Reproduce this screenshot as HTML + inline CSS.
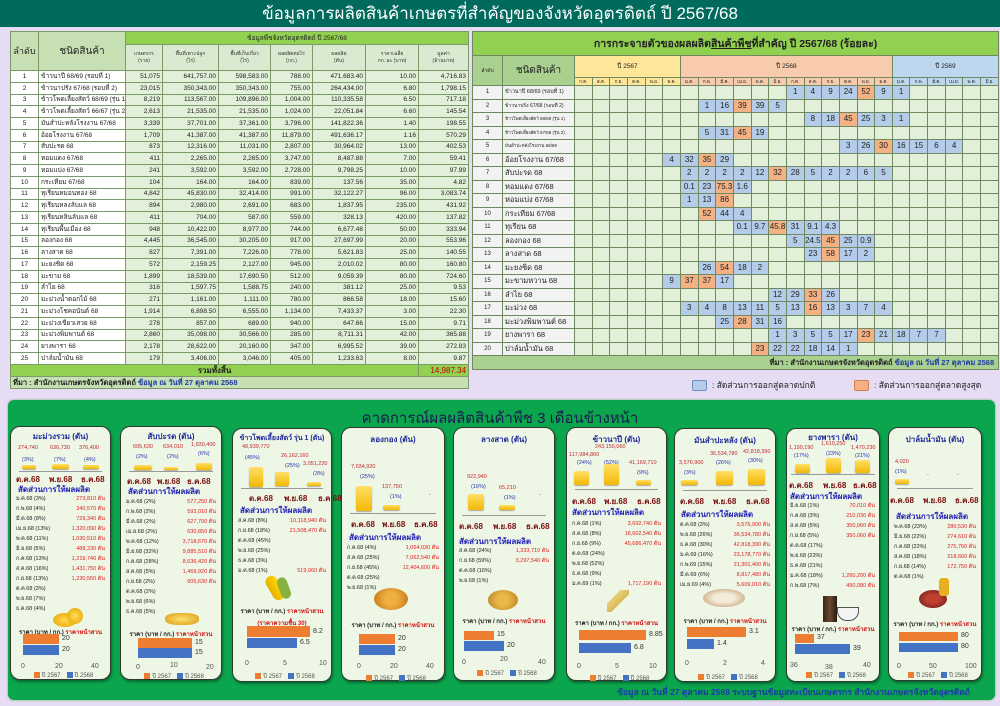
<!DOCTYPE html>
<html><head><meta charset="utf-8">
<style>
body{margin:0;width:1000px;height:706px;background:#e6dcf4;position:relative;overflow:hidden;font-family:"Liberation Sans","DejaVu Sans","Noto Sans CJK SC",sans-serif}
.a{position:absolute;white-space:nowrap}
#top{position:absolute;left:0;top:0;width:1000px;height:27px;background:#006a5c;color:#fff;font-size:17px;text-align:center;line-height:27px}
table{border-collapse:collapse;table-layout:fixed;position:absolute}
#lt{left:10px;top:31px;width:458px;font-size:6.5px}
#lt td{border:1px solid #7a9a6a;padding:0 2px;overflow:hidden;white-space:nowrap;line-height:9px;color:#222}
#lt tr.r{height:11.75px}
#lt tr.r td{background:#e2efd9;text-align:right}
#lt tr.r td:nth-child(1){background:#fff;text-align:center}
#lt tr.r td:nth-child(2){background:#fff;text-align:left}
#lt .sh td{background:#d9ead0;font-size:5px;text-align:center;line-height:7px;color:#333}
#rt{left:472px;top:31px;width:526px;font-size:8px}
#rt td{border:1px solid #6f8a60;padding:0;text-align:center;overflow:hidden;white-space:nowrap;line-height:10px;color:#222}
#rt tr.r{height:13.5px}
#rt tr.r td{background:#e2efd9}
#rt tr.r td:nth-child(1){background:#f2f2f2;font-size:6px}
#rt tr.r td:nth-child(2){background:#f2f2f2;text-align:left;padding-left:2px;font-size:7.5px}
#rt td.b{background:#b4cce9!important}
#rt td.o{background:#f4b183!important}
#rt .mh td{font-size:4.5px;line-height:7px}
#panel{position:absolute;left:8px;top:400px;width:987px;height:300px;background:#0aa54c;border-radius:6px;box-shadow:0 0 2px #6a6}
.card{position:absolute;background:#eef6e6;border:1.5px solid #2e3b2e;border-radius:10px;height:252px;box-shadow:1px 2px 2px rgba(0,0,0,.35)}
.t{left:0;right:0;text-align:center;color:#1f2b9b;font-weight:bold;font-size:8px}
.v{font-size:5.5px;color:#c0282d}
.p{font-size:5.5px;color:#2233aa}
.y{background:linear-gradient(180deg,#ffe066,#f2b705);border-radius:2px;box-shadow:0 1px 1px rgba(0,0,0,.3)}
.ln{height:1px;background:#999;left:8px;right:8px}
.m{font-size:8px;color:#7a1010;font-weight:bold}
.h{font-size:8px;color:#2323b5;font-weight:bold;left:7px}
.ls{left:5px;right:5px;font-size:5.5px;line-height:10px;color:#222}
.ls div{display:flex;justify-content:space-between;height:10px}
.ls b{font-weight:normal;color:#e02020}
.cl{font-size:6px;font-weight:bold;color:#222;left:0;right:0;text-align:center}
.cl i{font-style:normal;color:#d01818}
.o{background:#ed7d31;height:10px}
.bl{background:#4472c4;height:10px}
.n{font-size:7px;color:#333}
.ax{font-size:7px;color:#555}
.lg{font-size:6px;color:#555;left:0;right:0;text-align:center}
.lg s{display:inline-block;width:6px;height:6px;text-decoration:none;vertical-align:middle;margin:0 2px 0 6px}
</style></head><body>
<div id="top">ข้อมูลการผลิตสินค้าเกษตรที่สำคัญของจังหวัดอุตรดิตถ์ ปี 2567/68</div>

<table id="lt">
<colgroup><col style="width:28px"><col style="width:87px"><col style="width:37px"><col style="width:56px"><col style="width:52px"><col style="width:42px"><col style="width:53px"><col style="width:53px"><col style="width:50px"></colgroup>
<tr style="height:13px"><td rowspan="2" style="background:#c6e0b4;font-size:9px;text-align:center">ลำดับ</td><td rowspan="2" style="background:#c6e0b4;font-size:10px;text-align:center">ชนิดสินค้า</td><td colspan="7" style="background:#92d050;text-align:center;font-size:6.5px">ข้อมูลพืชจังหวัดอุตรดิตถ์ ปี 2567/68</td></tr>
<tr class="sh" style="height:26px"><td>เกษตรกร<br>(ราย)</td><td>พื้นที่เพาะปลูก<br>(ไร่)</td><td>พื้นที่เก็บเกี่ยว<br>(ไร่)</td><td>ผลผลิตต่อไร่<br>(กก.)</td><td>ผลผลิต<br>(ตัน)</td><td>ราคาเฉลี่ย<br>กก. ละ (บาท)</td><td>มูลค่า<br>(ล้านบาท)</td></tr>
<tr class="r"><td>1</td><td>ข้าวนาปี 68/69 (รอบที่ 1)</td><td>51,075</td><td>641,757.00</td><td>598,583.00</td><td>788.00</td><td>471,683.40</td><td>10.00</td><td>4,716.83</td></tr>
<tr class="r"><td>2</td><td>ข้าวนาปรัง 67/68 (รอบที่ 2)</td><td>23,015</td><td>350,343.00</td><td>350,343.00</td><td>755.00</td><td>264,434.00</td><td>6.80</td><td>1,798.15</td></tr>
<tr class="r"><td>3</td><td>ข้าวโพดเลี้ยงสัตว์ 68/69 (รุ่น 1)</td><td>8,219</td><td>113,567.00</td><td>109,896.00</td><td>1,004.00</td><td>110,335.58</td><td>6.50</td><td>717.18</td></tr>
<tr class="r"><td>4</td><td>ข้าวโพดเลี้ยงสัตว์ 66/67 (รุ่น 2)</td><td>2,613</td><td>21,535.00</td><td>21,535.00</td><td>1,024.00</td><td>22,051.84</td><td>6.60</td><td>145.54</td></tr>
<tr class="r"><td>5</td><td>มันสำปะหลังโรงงาน 67/68</td><td>3,339</td><td>37,701.00</td><td>37,361.00</td><td>3,796.00</td><td>141,822.36</td><td>1.40</td><td>198.55</td></tr>
<tr class="r"><td>6</td><td>อ้อยโรงงาน 67/68</td><td>1,709</td><td>41,387.00</td><td>41,387.00</td><td>11,879.00</td><td>491,636.17</td><td>1.16</td><td>570.29</td></tr>
<tr class="r"><td>7</td><td>สับปะรด 68</td><td>873</td><td>12,316.00</td><td>11,031.00</td><td>2,807.00</td><td>30,964.02</td><td>13.00</td><td>402.53</td></tr>
<tr class="r"><td>8</td><td>หอมแดง 67/68</td><td>411</td><td>2,265.00</td><td>2,265.00</td><td>3,747.00</td><td>8,487.88</td><td>7.00</td><td>59.41</td></tr>
<tr class="r"><td>9</td><td>หอมแบ่ง 67/68</td><td>241</td><td>3,592.00</td><td>3,592.00</td><td>2,728.00</td><td>9,798.25</td><td>10.00</td><td>97.99</td></tr>
<tr class="r"><td>10</td><td>กระเทียม 67/68</td><td>104</td><td>164.00</td><td>164.00</td><td>839.00</td><td>137.56</td><td>35.00</td><td>4.82</td></tr>
<tr class="r"><td>11</td><td>ทุเรียนหมอนทอง 68</td><td>4,842</td><td>45,830.00</td><td>32,414.00</td><td>991.00</td><td>32,122.27</td><td>96.00</td><td>3,083.74</td></tr>
<tr class="r"><td>12</td><td>ทุเรียนหลงลับแล 68</td><td>894</td><td>2,980.00</td><td>2,691.00</td><td>683.00</td><td>1,837.95</td><td>235.00</td><td>431.92</td></tr>
<tr class="r"><td>13</td><td>ทุเรียนหลินลับแล 68</td><td>411</td><td>704.00</td><td>587.00</td><td>559.00</td><td>328.13</td><td>420.00</td><td>137.82</td></tr>
<tr class="r"><td>14</td><td>ทุเรียนพื้นเมือง 68</td><td>948</td><td>10,422.00</td><td>8,977.00</td><td>744.00</td><td>6,677.48</td><td>50.00</td><td>333.94</td></tr>
<tr class="r"><td>15</td><td>ลองกอง 68</td><td>4,445</td><td>36,545.00</td><td>30,205.00</td><td>917.00</td><td>27,697.99</td><td>20.00</td><td>553.96</td></tr>
<tr class="r"><td>16</td><td>ลางสาด 68</td><td>827</td><td>7,391.00</td><td>7,226.00</td><td>778.00</td><td>5,621.83</td><td>25.00</td><td>140.55</td></tr>
<tr class="r"><td>17</td><td>มะยงชิด 68</td><td>572</td><td>2,159.25</td><td>2,127.00</td><td>945.00</td><td>2,010.02</td><td>80.00</td><td>160.80</td></tr>
<tr class="r"><td>18</td><td>มะขาม 68</td><td>1,899</td><td>18,539.00</td><td>17,690.50</td><td>512.00</td><td>9,059.39</td><td>80.00</td><td>724.60</td></tr>
<tr class="r"><td>19</td><td>ลำไย 68</td><td>316</td><td>1,597.75</td><td>1,588.75</td><td>240.00</td><td>381.12</td><td>25.00</td><td>9.53</td></tr>
<tr class="r"><td>20</td><td>มะม่วงน้ำดอกไม้ 68</td><td>271</td><td>1,161.00</td><td>1,111.00</td><td>780.00</td><td>866.58</td><td>18.00</td><td>15.60</td></tr>
<tr class="r"><td>21</td><td>มะม่วงโชคอนันต์ 68</td><td>1,914</td><td>6,898.50</td><td>6,555.00</td><td>1,134.00</td><td>7,433.37</td><td>3.00</td><td>22.30</td></tr>
<tr class="r"><td>22</td><td>มะม่วงเขียวเสวย 68</td><td>278</td><td>857.00</td><td>689.00</td><td>940.00</td><td>647.66</td><td>15.00</td><td>9.71</td></tr>
<tr class="r"><td>23</td><td>มะม่วงพิมพานต์ 68</td><td>2,860</td><td>35,098.00</td><td>30,566.00</td><td>285.00</td><td>8,711.31</td><td>42.00</td><td>365.88</td></tr>
<tr class="r"><td>24</td><td>ยางพารา 68</td><td>2,178</td><td>28,622.00</td><td>20,160.00</td><td>347.00</td><td>6,995.52</td><td>39.00</td><td>272.83</td></tr>
<tr class="r"><td>25</td><td>ปาล์มน้ำมัน 68</td><td>179</td><td>3,406.00</td><td>3,046.00</td><td>405.00</td><td>1,233.63</td><td>8.00</td><td>9.87</td></tr>
<tr style="height:12px"><td colspan="8" style="background:#92d050;text-align:center;font-size:8px;font-weight:bold">รวมทั้งสิ้น</td><td style="background:#92d050;text-align:right;color:#c00000;font-size:8px">14,987.34</td></tr>
<tr style="height:12px"><td colspan="9" style="background:#c6e0b4;font-size:7.5px;font-weight:bold">ที่มา : สำนักงานเกษตรจังหวัดอุตรดิตถ์ <span style="color:#1f3aa8">ข้อมูล ณ วันที่ 27 ตุลาคม 2568</span></td></tr>
</table>

<table id="rt">
<colgroup><col style="width:30px"><col style="width:72px"><col span="24" style="width:17.66px"></colgroup>
<tr style="height:24px"><td colspan="26" style="background:#92d050;font-size:10.5px;font-weight:bold">การกระจายตัวของผลผลิต<u>สินค้าพืช</u>ที่สำคัญ ปี 2567/68 (ร้อยละ)</td></tr>
<tr style="height:22px"><td rowspan="2" style="background:#a9d08e;font-size:5px">ลำดับ</td><td rowspan="2" style="background:#a9d08e;font-size:10px">ชนิดสินค้า</td><td colspan="6" style="background:#ffe699;font-size:6.5px">ปี 2567</td><td colspan="12" style="background:#f8cbad;font-size:6.5px">ปี 2568</td><td colspan="6" style="background:#bdd7ee;font-size:6.5px">ปี 2569</td></tr>
<tr class="mh" style="height:8px"><td style="background:#ffe699">ก.ค.</td><td style="background:#ffe699">ส.ค.</td><td style="background:#ffe699">ก.ย.</td><td style="background:#ffe699">ต.ค.</td><td style="background:#ffe699">พ.ย.</td><td style="background:#ffe699">ธ.ค.</td><td style="background:#f8cbad">ม.ค.</td><td style="background:#f8cbad">ก.พ.</td><td style="background:#f8cbad">มี.ค.</td><td style="background:#f8cbad">เม.ย.</td><td style="background:#f8cbad">พ.ค.</td><td style="background:#f8cbad">มิ.ย.</td><td style="background:#f8cbad">ก.ค.</td><td style="background:#f8cbad">ส.ค.</td><td style="background:#f8cbad">ก.ย.</td><td style="background:#f8cbad">ต.ค.</td><td style="background:#f8cbad">พ.ย.</td><td style="background:#f8cbad">ธ.ค.</td><td style="background:#bdd7ee">ม.ค.</td><td style="background:#bdd7ee">ก.พ.</td><td style="background:#bdd7ee">มี.ค.</td><td style="background:#bdd7ee">เม.ย.</td><td style="background:#bdd7ee">พ.ค.</td><td style="background:#bdd7ee">มิ.ย.</td></tr>
<tr class="r"><td>1</td><td style="font-size:5.5px!important">ข้าวนาปี 68/69 (รอบที่ 1)</td><td></td><td></td><td></td><td></td><td></td><td></td><td></td><td></td><td></td><td></td><td></td><td></td><td class="b">1</td><td class="b">4</td><td class="b">9</td><td class="b">24</td><td class="o">52</td><td class="b">9</td><td class="b">1</td><td></td><td></td><td></td><td></td><td></td></tr>
<tr class="r"><td>2</td><td style="font-size:5px!important">ข้าวนาปรัง 67/68 (รอบที่ 2)</td><td></td><td></td><td></td><td></td><td></td><td></td><td></td><td class="b">1</td><td class="b">16</td><td class="o">39</td><td class="b">39</td><td class="b">5</td><td></td><td></td><td></td><td></td><td></td><td></td><td></td><td></td><td></td><td></td><td></td><td></td></tr>
<tr class="r"><td>3</td><td style="font-size:4.5px!important">ข้าวโพดเลี้ยงสัตว์ 68/69 (รุ่น 1)</td><td></td><td></td><td></td><td></td><td></td><td></td><td></td><td></td><td></td><td></td><td></td><td></td><td></td><td class="b">8</td><td class="b">18</td><td class="o">45</td><td class="b">25</td><td class="b">3</td><td class="b">1</td><td></td><td></td><td></td><td></td><td></td></tr>
<tr class="r"><td>4</td><td style="font-size:4.5px!important">ข้าวโพดเลี้ยงสัตว์ 67/68 (รุ่น 2)</td><td></td><td></td><td></td><td></td><td></td><td></td><td></td><td class="b">5</td><td class="b">31</td><td class="o">45</td><td class="b">19</td><td></td><td></td><td></td><td></td><td></td><td></td><td></td><td></td><td></td><td></td><td></td><td></td><td></td></tr>
<tr class="r"><td>5</td><td style="font-size:4.5px!important">มันสำปะหลังโรงงาน 68/69</td><td></td><td></td><td></td><td></td><td></td><td></td><td></td><td></td><td></td><td></td><td></td><td></td><td></td><td></td><td></td><td class="b">3</td><td class="b">26</td><td class="o">30</td><td class="b">16</td><td class="b">15</td><td class="b">6</td><td class="b">4</td><td></td><td></td></tr>
<tr class="r"><td>6</td><td>อ้อยโรงงาน 67/68</td><td></td><td></td><td></td><td></td><td></td><td class="b">4</td><td class="b">32</td><td class="o">35</td><td class="b">29</td><td></td><td></td><td></td><td></td><td></td><td></td><td></td><td></td><td></td><td></td><td></td><td></td><td></td><td></td><td></td></tr>
<tr class="r"><td>7</td><td>สับปะรด 68</td><td></td><td></td><td></td><td></td><td></td><td></td><td class="b">2</td><td class="b">2</td><td class="b">2</td><td class="b">2</td><td class="b">12</td><td class="o">32</td><td class="b">28</td><td class="b">5</td><td class="b">2</td><td class="b">2</td><td class="b">6</td><td class="b">5</td><td></td><td></td><td></td><td></td><td></td><td></td></tr>
<tr class="r"><td>8</td><td>หอมแดง 67/68</td><td></td><td></td><td></td><td></td><td></td><td></td><td class="b">0.1</td><td class="b">23</td><td class="o">75.3</td><td class="b">1.6</td><td></td><td></td><td></td><td></td><td></td><td></td><td></td><td></td><td></td><td></td><td></td><td></td><td></td><td></td></tr>
<tr class="r"><td>9</td><td>หอมแบ่ง 67/68</td><td></td><td></td><td></td><td></td><td></td><td></td><td class="b">1</td><td class="b">13</td><td class="o">86</td><td></td><td></td><td></td><td></td><td></td><td></td><td></td><td></td><td></td><td></td><td></td><td></td><td></td><td></td><td></td></tr>
<tr class="r"><td>10</td><td>กระเทียม 67/68</td><td></td><td></td><td></td><td></td><td></td><td></td><td></td><td class="o">52</td><td class="b">44</td><td class="b">4</td><td></td><td></td><td></td><td></td><td></td><td></td><td></td><td></td><td></td><td></td><td></td><td></td><td></td><td></td></tr>
<tr class="r"><td>11</td><td>ทุเรียน 68</td><td></td><td></td><td></td><td></td><td></td><td></td><td></td><td></td><td></td><td class="b">0.1</td><td class="b">9.7</td><td class="o">45.8</td><td class="b">31</td><td class="b">9.1</td><td class="b">4.3</td><td></td><td></td><td></td><td></td><td></td><td></td><td></td><td></td><td></td></tr>
<tr class="r"><td>12</td><td>ลองกอง 68</td><td></td><td></td><td></td><td></td><td></td><td></td><td></td><td></td><td></td><td></td><td></td><td></td><td class="b">5</td><td class="b">24.5</td><td class="o">45</td><td class="b">25</td><td class="b">0.9</td><td></td><td></td><td></td><td></td><td></td><td></td><td></td></tr>
<tr class="r"><td>13</td><td>ลางสาด 68</td><td></td><td></td><td></td><td></td><td></td><td></td><td></td><td></td><td></td><td></td><td></td><td></td><td></td><td class="b">23</td><td class="o">58</td><td class="b">17</td><td class="b">2</td><td></td><td></td><td></td><td></td><td></td><td></td><td></td></tr>
<tr class="r"><td>14</td><td>มะยงชิด 68</td><td></td><td></td><td></td><td></td><td></td><td></td><td></td><td class="b">26</td><td class="o">54</td><td class="b">18</td><td class="b">2</td><td></td><td></td><td></td><td></td><td></td><td></td><td></td><td></td><td></td><td></td><td></td><td></td><td></td></tr>
<tr class="r"><td>15</td><td>มะขามหวาน 68</td><td></td><td></td><td></td><td></td><td></td><td class="b">9</td><td class="o">37</td><td class="o">37</td><td class="b">17</td><td></td><td></td><td></td><td></td><td></td><td></td><td></td><td></td><td></td><td></td><td></td><td></td><td></td><td></td><td></td></tr>
<tr class="r"><td>16</td><td>ลำไย 68</td><td></td><td></td><td></td><td></td><td></td><td></td><td></td><td></td><td></td><td></td><td></td><td class="b">12</td><td class="b">29</td><td class="o">33</td><td class="b">26</td><td></td><td></td><td></td><td></td><td></td><td></td><td></td><td></td><td></td></tr>
<tr class="r"><td>17</td><td>มะม่วง 68</td><td></td><td></td><td></td><td></td><td></td><td></td><td class="b">3</td><td class="b">4</td><td class="b">8</td><td class="b">13</td><td class="b">11</td><td class="b">5</td><td class="b">13</td><td class="o">16</td><td class="b">13</td><td class="b">3</td><td class="b">7</td><td class="b">4</td><td></td><td></td><td></td><td></td><td></td><td></td></tr>
<tr class="r"><td>18</td><td>มะม่วงพิมพานต์ 68</td><td></td><td></td><td></td><td></td><td></td><td></td><td></td><td></td><td class="b">25</td><td class="o">28</td><td class="b">31</td><td class="b">16</td><td></td><td></td><td></td><td></td><td></td><td></td><td></td><td></td><td></td><td></td><td></td><td></td></tr>
<tr class="r"><td>19</td><td>ยางพารา 68</td><td></td><td></td><td></td><td></td><td></td><td></td><td></td><td></td><td></td><td></td><td></td><td class="b">1</td><td class="b">3</td><td class="b">5</td><td class="b">5</td><td class="b">17</td><td class="o">23</td><td class="b">21</td><td class="b">18</td><td class="b">7</td><td class="b">7</td><td></td><td></td><td></td></tr>
<tr class="r"><td>20</td><td>ปาล์มน้ำมัน 68</td><td></td><td></td><td></td><td></td><td></td><td></td><td></td><td></td><td></td><td></td><td class="o">23</td><td class="b">22</td><td class="b">22</td><td class="b">18</td><td class="b">14</td><td class="b">1</td><td></td><td></td><td></td><td></td><td></td><td></td><td></td><td></td></tr>
<tr style="height:14px"><td colspan="26" style="background:#a9d08e;text-align:right;font-size:7.5px;font-weight:bold;padding-right:4px">ที่มา : สำนักงานเกษตรจังหวัดอุตรดิตถ์ <span style="color:#1f3aa8">ข้อมูล ณ วันที่ 27 ตุลาคม 2568</span></td></tr>
</table>

<div class="a" style="left:692px;top:380px;width:13px;height:9px;background:#b4cce9;border:1px solid #6a8fc0;border-radius:2px"></div>
<div class="a" style="left:712px;top:378px;font-size:8.5px;color:#222">: สัดส่วนการออกสู่ตลาดปกติ</div>
<div class="a" style="left:854px;top:380px;width:13px;height:9px;background:#f4b183;border:1px solid #d08050;border-radius:2px"></div>
<div class="a" style="left:874px;top:378px;font-size:8.5px;color:#222">: สัดส่วนการออกสู่ตลาดสูงสุด</div>

<div id="panel"></div>
<div class="a" style="left:0;width:1000px;top:406px;text-align:center;font-size:15px;color:#1b1b50">คาดการณ์ผลผลิตสินค้าพืช 3 เดือนข้างหน้า</div>

<!-- Card 1 -->
<div class="card" style="left:10px;top:426px;width:99px">
<div class="a t" style="top:3px">มะม่วงรวม (ตัน)</div>
<div class="a v" style="left:7px;top:18px">274,740</div><div class="a v" style="left:39px;top:18px">636,730</div><div class="a v" style="left:68px;top:18px">376,400</div>
<div class="a p" style="left:11px;top:30px">(3%)</div><div class="a p" style="left:43px;top:30px">(7%)</div><div class="a p" style="left:73px;top:30px">(4%)</div>
<div class="a y" style="left:11px;top:38px;width:14px;height:4px"></div><div class="a y" style="left:41px;top:37px;width:17px;height:5px"></div><div class="a y" style="left:72px;top:38px;width:16px;height:4px"></div>
<div class="a ln" style="top:44px"></div>
<div class="a m" style="left:5px;top:46px">ต.ค.68</div><div class="a m" style="left:38px;top:46px">พ.ย.68</div><div class="a m" style="left:70px;top:46px">ธ.ค.68</div>
<div class="a h" style="top:56px">สัดส่วนการให้ผลผลิต</div>
<div class="a ls" style="top:67px"><div><span>ม.ค.68 (3%)</span><b>273,810 ตัน</b></div><div><span>ก.พ.68 (4%)</span><b>340,570 ตัน</b></div><div><span>มี.ค.68 (8%)</span><b>729,340 ตัน</b></div><div><span>เม.ย.68 (13%)</span><b>1,320,090 ตัน</b></div><div><span>พ.ค.68 (11%)</span><b>1,030,510 ตัน</b></div><div><span>มิ.ย.68 (5%)</span><b>488,230 ตัน</b></div><div><span>ก.ค.68 (13%)</span><b>1,219,740 ตัน</b></div><div><span>ส.ค.68 (16%)</span><b>1,431,750 ตัน</b></div><div><span>ก.ย.68 (13%)</span><b>1,230,550 ตัน</b></div><div><span>ต.ค.68 (3%)</span></div><div><span>พ.ย.68 (7%)</span></div><div><span>ธ.ค.68 (4%)</span></div></div>
<div class="a" style="left:42px;top:186px;width:24px;height:14px;border-radius:50%;background:radial-gradient(#ffd84a,#e8a000)"></div><div class="a" style="left:56px;top:181px;width:16px;height:16px;border-radius:50%;background:radial-gradient(#ffdc55,#e3a200)"></div>
<div class="a cl" style="top:200px">ราคา (บาท / กก.) <i>ราคาหน้าสวน</i></div>
<div class="a o" style="left:12px;top:207px;width:36px"></div><div class="a n" style="left:51px;top:208px">20</div>
<div class="a bl" style="left:12px;top:218px;width:36px"></div><div class="a n" style="left:51px;top:219px">20</div>
<div class="a ax" style="left:10px;top:236px">0</div><div class="a ax" style="left:44px;top:236px">20</div><div class="a ax" style="left:80px;top:236px">40</div>
<div class="a lg" style="top:243px"><s style="background:#ed7d31"></s>ปี 2567<s style="background:#4472c4"></s>ปี 2568</div>
</div>

<!-- Card 2 -->
<div class="card" style="left:120px;top:426px;width:100px">
<div class="a t" style="top:3px">สับปะรด (ตัน)</div>
<div class="a v" style="left:12px;top:17px">605,630</div><div class="a v" style="left:42px;top:17px">634,010</div><div class="a v" style="left:70px;top:15px">1,930,400</div>
<div class="a p" style="left:15px;top:27px">(2%)</div><div class="a p" style="left:46px;top:27px">(2%)</div><div class="a p" style="left:77px;top:24px">(6%)</div>
<div class="a y" style="left:13px;top:38px;width:18px;height:5px"></div><div class="a y" style="left:43px;top:40px;width:14px;height:3px"></div><div class="a y" style="left:75px;top:36px;width:16px;height:7px"></div>
<div class="a ln" style="top:44px"></div>
<div class="a m" style="left:6px;top:48px">ต.ค.68</div><div class="a m" style="left:36px;top:48px">พ.ย.68</div><div class="a m" style="left:66px;top:48px">ธ.ค.68</div>
<div class="a h" style="top:58px">สัดส่วนการให้ผลผลิต</div>
<div class="a ls" style="top:70px"><div><span>ม.ค.68 (2%)</span><b>577,250 ตัน</b></div><div><span>ก.พ.68 (2%)</span><b>593,010 ตัน</b></div><div><span>มี.ค.68 (2%)</span><b>627,700 ตัน</b></div><div><span>เม.ย.68 (2%)</span><b>630,850 ตัน</b></div><div><span>พ.ค.68 (12%)</span><b>3,718,670 ตัน</b></div><div><span>มิ.ย.68 (32%)</span><b>9,885,510 ตัน</b></div><div><span>ก.ค.68 (28%)</span><b>8,636,420 ตัน</b></div><div><span>ส.ค.68 (5%)</span><b>1,469,920 ตัน</b></div><div><span>ก.ย.68 (2%)</span><b>605,630 ตัน</b></div><div><span>ต.ค.68 (2%)</span></div><div><span>พ.ย.68 (6%)</span></div><div><span>ธ.ค.68 (5%)</span></div></div>
<div class="a" style="left:44px;top:186px;width:34px;height:12px;border-radius:40%;background:radial-gradient(#ffe070,#d89a10)"></div>
<div class="a cl" style="top:202px">ราคา (บาท / กก.) <i>ราคาหน้าสวน</i></div>
<div class="a o" style="left:17px;top:211px;width:54px"></div><div class="a n" style="left:74px;top:212px">15</div>
<div class="a bl" style="left:17px;top:221px;width:54px"></div><div class="a n" style="left:74px;top:222px">15</div>
<div class="a ax" style="left:15px;top:237px">0</div><div class="a ax" style="left:49px;top:235px">10</div><div class="a ax" style="left:85px;top:237px">20</div>
<div class="a lg" style="top:244px"><s style="background:#ed7d31"></s>ปี 2567<s style="background:#4472c4"></s>ปี 2568</div>
</div>

<!-- Card 3 -->
<div class="card" style="left:232px;top:428px;width:98px">
<div class="a t" style="top:4px;font-size:7px">ข้าวโพดเลี้ยงสัตว์ รุ่น 1 (ตัน)</div>
<div class="a v" style="left:9px;top:15px">48,939,770</div><div class="a p" style="left:12px;top:26px">(45%)</div>
<div class="a v" style="left:48px;top:24px">26,162,160</div><div class="a p" style="left:52px;top:34px">(25%)</div>
<div class="a v" style="left:70px;top:32px">3,051,220</div><div class="a p" style="left:80px;top:42px">(3%)</div>
<div class="a y" style="left:16px;top:38px;width:14px;height:20px"></div><div class="a y" style="left:42px;top:43px;width:14px;height:14px"></div><div class="a y" style="left:74px;top:53px;width:14px;height:4px"></div>
<div class="a ln" style="top:59px"></div>
<div class="a m" style="left:16px;top:63px">ต.ค.68</div><div class="a m" style="left:51px;top:63px">พ.ย.68</div><div class="a m" style="left:85px;top:63px">ธ.ค.68</div>
<div class="a h" style="top:75px">สัดส่วนการให้ผลผลิต</div>
<div class="a ls" style="top:87px"><div><span>ส.ค.68 (8%)</span><b>10,118,940 ตัน</b></div><div><span>ก.ย.68 (18%)</span><b>21,508,470 ตัน</b></div><div><span>ต.ค.68 (45%)</span></div><div><span>พ.ย.68 (25%)</span></div><div><span>ธ.ค.68 (3%)</span></div><div><span>ม.ค.68 (1%)</span><b>519,060 ตัน</b></div></div>
<div class="a" style="left:36px;top:146px;width:12px;height:26px;border-radius:6px;background:linear-gradient(90deg,#e8b000,#ffd700);transform:rotate(-30deg)"></div><div class="a" style="left:46px;top:148px;width:10px;height:22px;border-radius:5px;background:#88b040;transform:rotate(-20deg)"></div>
<div class="a cl" style="top:177px">ราคา (บาท / กก.) <i>ราคาหน้าสวน</i></div>
<div class="a cl" style="top:189px;color:#d01818">(ราคาความชื้น 30)</div>
<div class="a o" style="left:14px;top:197px;width:63px;height:11px"></div><div class="a n" style="left:80px;top:199px">8.2</div>
<div class="a bl" style="left:14px;top:209px;width:50px"></div><div class="a n" style="left:67px;top:210px">6.5</div>
<div class="a ax" style="left:12px;top:231px">0</div><div class="a ax" style="left:50px;top:231px">5</div><div class="a ax" style="left:86px;top:231px">10</div>
<div class="a lg" style="top:242px"><s style="background:#ed7d31"></s>ปี 2567<s style="background:#4472c4"></s>ปี 2568</div>
</div>

<!-- Card 4 -->
<div class="card" style="left:341px;top:427px;width:102px">
<div class="a t" style="top:5px">ลองกอง (ตัน)</div>
<div class="a v" style="left:9px;top:36px">7,034,920</div><div class="a p" style="left:18px;top:46px">(25%)</div>
<div class="a y" style="left:14px;top:58px;width:16px;height:25px"></div>
<div class="a v" style="left:40px;top:56px">137,750</div><div class="a p" style="left:48px;top:66px">(1%)</div>
<div class="a y" style="left:41px;top:77px;width:17px;height:5px"></div>
<div class="a v" style="left:87px;top:64px">-</div>
<div class="a ln" style="top:85px"></div>
<div class="a m" style="left:9px;top:90px">ต.ค.68</div><div class="a m" style="left:40px;top:90px">พ.ย.68</div><div class="a m" style="left:72px;top:90px">ธ.ค.68</div>
<div class="a h" style="top:103px">สัดส่วนการให้ผลผลิต</div>
<div class="a ls" style="top:115px"><div><span>ก.ค.68 (4%)</span><b>1,064,030 ตัน</b></div><div><span>ส.ค.68 (25%)</span><b>7,062,540 ตัน</b></div><div><span>ก.ย.68 (45%)</span><b>12,404,600 ตัน</b></div><div><span>ต.ค.68 (25%)</span></div><div><span>พ.ย.68 (1%)</span></div></div>
<div class="a" style="left:32px;top:160px;width:34px;height:22px;border-radius:50%;background:radial-gradient(circle,#f0b040 30%,#c07010)"></div>
<div class="a cl" style="top:192px">ราคา (บาท / กก.) <i>ราคาหน้าสวน</i></div>
<div class="a o" style="left:17px;top:206px;width:36px"></div><div class="a n" style="left:56px;top:207px">20</div>
<div class="a bl" style="left:17px;top:217px;width:36px"></div><div class="a n" style="left:56px;top:218px">20</div>
<div class="a ax" style="left:15px;top:235px">0</div><div class="a ax" style="left:48px;top:235px">20</div><div class="a ax" style="left:84px;top:235px">40</div>
<div class="a lg" style="top:245px"><s style="background:#ed7d31"></s>ปี 2567<s style="background:#4472c4"></s>ปี 2568</div>
</div>

<!-- Card 5 -->
<div class="card" style="left:453px;top:427px;width:100px">
<div class="a t" style="top:5px">ลางสาด (ตัน)</div>
<div class="a v" style="left:13px;top:46px">922,940</div><div class="a p" style="left:17px;top:56px">(16%)</div>
<div class="a y" style="left:14px;top:66px;width:16px;height:16px"></div>
<div class="a v" style="left:45px;top:57px">65,210</div><div class="a p" style="left:50px;top:67px">(1%)</div>
<div class="a y" style="left:45px;top:77px;width:16px;height:5px"></div>
<div class="a v" style="left:85px;top:64px">-</div>
<div class="a ln" style="top:87px"></div>
<div class="a m" style="left:5px;top:92px">ต.ค.68</div><div class="a m" style="left:39px;top:92px">พ.ย.68</div><div class="a m" style="left:72px;top:92px">ธ.ค.68</div>
<div class="a h" style="top:107px;left:5px">สัดส่วนการให้ผลผลิต</div>
<div class="a ls" style="top:118px;line-height:10.5px"><div><span>ส.ค.68 (24%)</span><b>1,333,710 ตัน</b></div><div><span>ก.ย.68 (59%)</span><b>3,297,540 ตัน</b></div><div><span>ต.ค.68 (16%)</span></div><div><span>พ.ย.68 (1%)</span></div></div>
<div class="a" style="left:34px;top:162px;width:30px;height:20px;border-radius:50%;background:radial-gradient(circle,#e8b848 30%,#b88020)"></div>
<div class="a cl" style="top:188px">ราคา (บาท / กก.) <i>ราคาหน้าสวน</i></div>
<div class="a o" style="left:10px;top:203px;width:30px;height:9px"></div><div class="a n" style="left:43px;top:203px">15</div>
<div class="a bl" style="left:10px;top:213px;width:40px;height:10px"></div><div class="a n" style="left:53px;top:214px">20</div>
<div class="a ax" style="left:8px;top:231px">0</div><div class="a ax" style="left:46px;top:228px">20</div><div class="a ax" style="left:84px;top:231px">40</div>
<div class="a lg" style="top:240px"><s style="background:#ed7d31"></s>ปี 2567<s style="background:#4472c4"></s>ปี 2568</div>
</div>

<!-- Card 6 -->
<div class="card" style="left:566px;top:427px;width:99px">
<div class="a t" style="top:5px">ข้าวนาปี (ตัน)</div>
<div class="a v" style="left:28px;top:16px">243,156,060</div>
<div class="a v" style="left:2px;top:24px">117,984,860</div>
<div class="a p" style="left:10px;top:32px">(24%)</div><div class="a p" style="left:37px;top:32px">(52%)</div>
<div class="a v" style="left:62px;top:32px">41,169,710</div><div class="a p" style="left:70px;top:42px">(9%)</div>
<div class="a y" style="left:7px;top:43px;width:15px;height:14px"></div><div class="a y" style="left:37px;top:36px;width:15px;height:21px"></div><div class="a y" style="left:69px;top:52px;width:15px;height:5px"></div>
<div class="a ln" style="top:61px"></div>
<div class="a m" style="left:5px;top:67px">ต.ค.68</div><div class="a m" style="left:37px;top:67px">พ.ย.68</div><div class="a m" style="left:70px;top:67px">ธ.ค.68</div>
<div class="a h" style="top:78px;left:5px">สัดส่วนการให้ผลผลิต</div>
<div class="a ls" style="top:91px;line-height:10.3px"><div><span>ก.ค.68 (1%)</span><b>3,692,740 ตัน</b></div><div><span>ส.ค.68 (8%)</span><b>18,602,540 ตัน</b></div><div><span>ก.ย.68 (9%)</span><b>45,686,470 ตัน</b></div><div><span>ต.ค.68 (24%)</span></div><div><span>พ.ย.68 (52%)</span></div><div><span>ธ.ค.68 (9%)</span></div><div><span>ม.ค.69 (1%)</span><b>1,717,190 ตัน</b></div></div>
<div class="a" style="left:40px;top:162px;width:22px;height:22px;background:linear-gradient(135deg,transparent 30%,#e8d080 30%,#d8b850 60%,transparent 60%)"></div>
<div class="a cl" style="top:190px">ราคา (บาท / กก.) <i>ราคาหน้าสวน</i></div>
<div class="a o" style="left:12px;top:202px;width:67px"></div><div class="a n" style="left:82px;top:203px">8.85</div>
<div class="a bl" style="left:12px;top:215px;width:52px"></div><div class="a n" style="left:67px;top:216px">6.8</div>
<div class="a ax" style="left:10px;top:235px">0</div><div class="a ax" style="left:48px;top:235px">5</div><div class="a ax" style="left:82px;top:235px">10</div>
<div class="a lg" style="top:245px"><s style="background:#ed7d31"></s>ปี 2567<s style="background:#4472c4"></s>ปี 2568</div>
</div>

<!-- Card 7 -->
<div class="card" style="left:674px;top:428px;width:100px">
<div class="a t" style="top:5px">มันสำปะหลัง (ตัน)</div>
<div class="a v" style="left:68px;top:20px">42,818,390</div><div class="a v" style="left:35px;top:22px">36,534,780</div>
<div class="a v" style="left:4px;top:31px">3,576,900</div><div class="a p" style="left:41px;top:31px">(26%)</div><div class="a p" style="left:73px;top:29px">(30%)</div><div class="a p" style="left:9px;top:41px">(3%)</div>
<div class="a y" style="left:6px;top:51px;width:17px;height:5px"></div><div class="a y" style="left:41px;top:42px;width:17px;height:14px"></div><div class="a y" style="left:73px;top:40px;width:17px;height:16px"></div>
<div class="a ln" style="top:61px"></div>
<div class="a m" style="left:5px;top:66px">ต.ค.68</div><div class="a m" style="left:38px;top:66px">พ.ย.68</div><div class="a m" style="left:71px;top:66px">ธ.ค.68</div>
<div class="a h" style="top:79px;left:6px">สัดส่วนการให้ผลผลิต</div>
<div class="a ls" style="top:91px"><div><span>ต.ค.68 (3%)</span><b>3,576,900 ตัน</b></div><div><span>พ.ย.68 (26%)</span><b>36,534,780 ตัน</b></div><div><span>ธ.ค.68 (30%)</span><b>42,818,390 ตัน</b></div><div><span>ม.ค.69 (16%)</span><b>23,178,770 ตัน</b></div><div><span>ก.พ.69 (15%)</span><b>21,301,400 ตัน</b></div><div><span>มี.ค.69 (6%)</span><b>8,817,480 ตัน</b></div><div><span>เม.ย.69 (4%)</span><b>5,609,010 ตัน</b></div></div>
<div class="a" style="left:28px;top:160px;width:42px;height:18px;border-radius:50%;background:radial-gradient(#f4ead8 35%,#b89060)"></div>
<div class="a cl" style="top:187px">ราคา (บาท / กก.) <i>ราคาหน้าสวน</i></div>
<div class="a o" style="left:12px;top:198px;width:59px"></div><div class="a n" style="left:74px;top:199px">3.1</div>
<div class="a bl" style="left:12px;top:210px;width:27px"></div><div class="a n" style="left:42px;top:211px">1.4</div>
<div class="a ax" style="left:10px;top:231px">0</div><div class="a ax" style="left:48px;top:231px">2</div><div class="a ax" style="left:86px;top:231px">4</div>
<div class="a lg" style="top:243px"><s style="background:#ed7d31"></s>ปี 2567<s style="background:#4472c4"></s>ปี 2568</div>
</div>

<!-- Card 8 -->
<div class="card" style="left:786px;top:428px;width:92px">
<div class="a t" style="top:2px">ยางพารา (ตัน)</div>
<div class="a v" style="left:34px;top:12px">1,610,250</div><div class="a v" style="left:2px;top:16px">1,190,190</div><div class="a v" style="left:64px;top:16px">1,470,230</div>
<div class="a p" style="left:7px;top:24px">(17%)</div><div class="a p" style="left:39px;top:22px">(23%)</div><div class="a p" style="left:68px;top:24px">(21%)</div>
<div class="a y" style="left:8px;top:35px;width:15px;height:9px"></div><div class="a y" style="left:39px;top:29px;width:15px;height:15px"></div><div class="a y" style="left:68px;top:31px;width:15px;height:13px"></div>
<div class="a ln" style="top:45px;left:4px;right:4px"></div>
<div class="a m" style="left:2px;top:50px">ต.ค.68</div><div class="a m" style="left:36px;top:50px">พ.ย.68</div><div class="a m" style="left:66px;top:50px">ธ.ค.68</div>
<div class="a h" style="top:61px;left:3px">สัดส่วนการให้ผลผลิต</div>
<div class="a ls" style="top:72px;line-height:10.7px;left:3px;right:4px"><div><span>มิ.ย.68 (1%)</span><b>70,010 ตัน</b></div><div><span>ก.ค.68 (3%)</span><b>210,030 ตัน</b></div><div><span>ส.ค.68 (5%)</span><b>350,060 ตัน</b></div><div><span>ก.ย.68 (5%)</span><b>350,060 ตัน</b></div><div><span>ต.ค.68 (17%)</span></div><div><span>พ.ย.68 (23%)</span></div><div><span>ธ.ค.68 (21%)</span></div><div><span>ม.ค.68 (18%)</span><b>1,260,200 ตัน</b></div><div><span>ก.พ.68 (7%)</span><b>490,080 ตัน</b></div></div>
<div class="a" style="left:36px;top:167px;width:14px;height:26px;background:linear-gradient(90deg,#3a2418,#6a4a30,#2a1a10)"></div><div class="a" style="left:50px;top:178px;width:20px;height:12px;border-radius:0 0 10px 10px;background:#f4f4f4;border:1px solid #555"></div>
<div class="a cl" style="top:195px">ราคา (บาท / กก.) <i>ราคาหน้าสวน</i></div>
<div class="a o" style="left:8px;top:205px;width:19px;height:9px"></div><div class="a n" style="left:30px;top:205px">37</div>
<div class="a bl" style="left:8px;top:215px;width:55px"></div><div class="a n" style="left:66px;top:216px">39</div>
<div class="a ax" style="left:3px;top:233px">36</div><div class="a ax" style="left:38px;top:235px">38</div><div class="a ax" style="left:76px;top:233px">40</div>
<div class="a lg" style="top:241px"><s style="background:#ed7d31"></s>ปี 2567<s style="background:#4472c4"></s>ปี 2568</div>
</div>

<!-- Card 9 -->
<div class="card" style="left:888px;top:427px;width:92px">
<div class="a t" style="top:5px">ปาล์มน้ำมัน (ตัน)</div>
<div class="a v" style="left:6px;top:31px">4,020</div><div class="a p" style="left:6px;top:41px">(1%)</div>
<div class="a y" style="left:6px;top:51px;width:14px;height:5px"></div>
<div class="a v" style="left:38px;top:44px">-</div><div class="a v" style="left:68px;top:44px">-</div>
<div class="a ln" style="top:60px"></div>
<div class="a m" style="left:1px;top:66px">ต.ค.68</div><div class="a m" style="left:34px;top:66px">พ.ย.68</div><div class="a m" style="left:66px;top:66px">ธ.ค.68</div>
<div class="a h" style="top:82px">สัดส่วนการให้ผลผลิต</div>
<div class="a ls" style="top:94px"><div><span>พ.ค.68 (23%)</span><b>280,530 ตัน</b></div><div><span>มิ.ย.68 (22%)</span><b>274,610 ตัน</b></div><div><span>ก.ค.68 (22%)</span><b>275,760 ตัน</b></div><div><span>ส.ค.68 (18%)</span><b>218,660 ตัน</b></div><div><span>ก.ย.68 (14%)</span><b>172,750 ตัน</b></div><div><span>ต.ค.68 (1%)</span></div></div>
<div class="a" style="left:30px;top:162px;width:28px;height:18px;border-radius:50%;background:radial-gradient(#c04030 30%,#601818)"></div><div class="a" style="left:50px;top:150px;width:10px;height:18px;border-radius:3px;background:#e8b020"></div>
<div class="a cl" style="top:191px">ราคา (บาท / กก.) <i>ราคาหน้าสวน</i></div>
<div class="a o" style="left:10px;top:204px;width:59px;height:9px"></div><div class="a n" style="left:72px;top:204px">80</div>
<div class="a bl" style="left:10px;top:215px;width:59px;height:9px"></div><div class="a n" style="left:72px;top:215px">80</div>
<div class="a ax" style="left:8px;top:235px">0</div><div class="a ax" style="left:40px;top:235px">50</div><div class="a ax" style="left:76px;top:235px">100</div>
<div class="a lg" style="top:242px"><s style="background:#ed7d31"></s>ปี 2567<s style="background:#4472c4"></s>ปี 2568</div>
</div>

<div class="a" style="right:30px;top:685px;font-size:8.5px;font-weight:bold;color:#1c3aa9">ข้อมูล ณ วันที่ 27 ตุลาคม 2568 ระบบฐานข้อมูลทะเบียนเกษตรกร สำนักงานเกษตรจังหวัดอุตรดิตถ์</div>
</body></html>
